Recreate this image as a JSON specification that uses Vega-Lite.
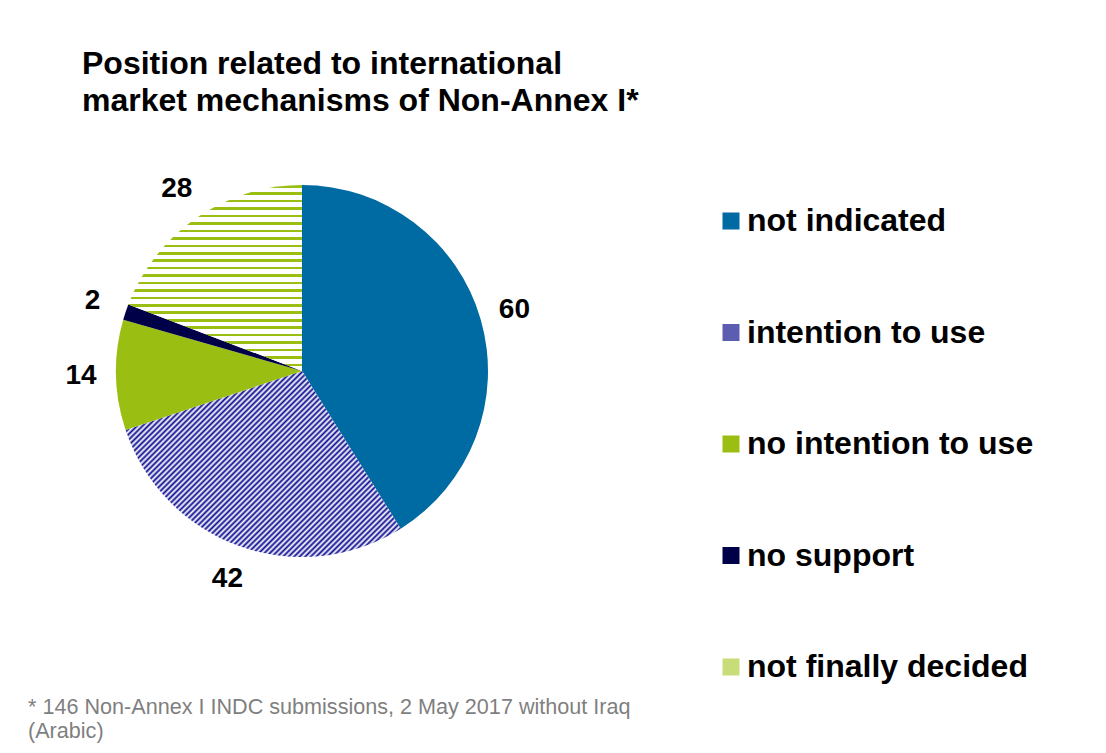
{
  "$schema": "https://vega.github.io/schema/vega-lite/v6.json",
  "background": "white",
  "padding": {"left": 28, "top": 47, "right": 10, "bottom": 5},
  "config": {"font": "Liberation Sans", "view": {"stroke": null}},
  "title": {
    "text": ["Position related to international", "market mechanisms of Non-Annex I*"],
    "anchor": "start", "fontSize": 32, "fontWeight": "bold", "font": "Liberation Sans",
    "color": "black", "lineHeight": 37, "offset": 57, "dx": 54
  },
  "vconcat": [
    {
      "width": 372,
      "height": 372,
      "title": {
        "text": ["* 146 Non-Annex I INDC submissions, 2 May 2017 without Iraq", "(Arabic)"],
        "orient": "bottom", "anchor": "start", "frame": "group", "fontSize": 21.6,
        "fontWeight": "normal", "font": "Liberation Sans", "color": "#7f7f7f",
        "lineHeight": 24, "offset": 104, "dx": -88
      },
      "data": {
        "values": [
          {"cat": "not indicated", "value": 60, "order": 1},
          {"cat": "intention to use", "value": 42, "order": 2},
          {"cat": "no intention to use", "value": 14, "order": 3},
          {"cat": "no support", "value": 2, "order": 4},
          {"cat": "not finally decided", "value": 28, "order": 5}
        ]
      },
      "encoding": {
        "theta": {"field": "value", "type": "quantitative", "stack": true},
        "order": {"field": "order", "type": "quantitative"}
      },
      "layer": [
        {
          "mark": {"type": "arc", "outerRadius": 186},
          "encoding": {
            "fill": {
              "condition": [
                {
                  "test": "datum.cat === 'intention to use'",
                  "value": {
                    "gradient": "linear", "x1": 0, "y1": 0, "x2": 1.15, "y2": 0.78,
                    "stops": [
                      {"offset": 0, "color": "#0c0c92"}, {"offset": 0.006, "color": "#fff"}, {"offset": 0.012, "color": "#0c0c92"}, {"offset": 0.018, "color": "#fff"}, {"offset": 0.024, "color": "#0c0c92"}, {"offset": 0.03, "color": "#fff"}, {"offset": 0.036, "color": "#0c0c92"}, {"offset": 0.042, "color": "#fff"}, {"offset": 0.048, "color": "#0c0c92"}, {"offset": 0.054, "color": "#fff"},
                      {"offset": 0.06, "color": "#0c0c92"}, {"offset": 0.066, "color": "#fff"}, {"offset": 0.072, "color": "#0c0c92"}, {"offset": 0.078, "color": "#fff"}, {"offset": 0.084, "color": "#0c0c92"}, {"offset": 0.09, "color": "#fff"}, {"offset": 0.096, "color": "#0c0c92"}, {"offset": 0.102, "color": "#fff"}, {"offset": 0.108, "color": "#0c0c92"}, {"offset": 0.114, "color": "#fff"},
                      {"offset": 0.12, "color": "#0c0c92"}, {"offset": 0.126, "color": "#fff"}, {"offset": 0.132, "color": "#0c0c92"}, {"offset": 0.138, "color": "#fff"}, {"offset": 0.144, "color": "#0c0c92"}, {"offset": 0.15, "color": "#fff"}, {"offset": 0.156, "color": "#0c0c92"}, {"offset": 0.162, "color": "#fff"}, {"offset": 0.168, "color": "#0c0c92"}, {"offset": 0.174, "color": "#fff"},
                      {"offset": 0.18, "color": "#0c0c92"}, {"offset": 0.186, "color": "#fff"}, {"offset": 0.192, "color": "#0c0c92"}, {"offset": 0.198, "color": "#fff"}, {"offset": 0.204, "color": "#0c0c92"}, {"offset": 0.21, "color": "#fff"}, {"offset": 0.216, "color": "#0c0c92"}, {"offset": 0.222, "color": "#fff"}, {"offset": 0.228, "color": "#0c0c92"}, {"offset": 0.234, "color": "#fff"},
                      {"offset": 0.24, "color": "#0c0c92"}, {"offset": 0.246, "color": "#fff"}, {"offset": 0.252, "color": "#0c0c92"}, {"offset": 0.258, "color": "#fff"}, {"offset": 0.264, "color": "#0c0c92"}, {"offset": 0.27, "color": "#fff"}, {"offset": 0.276, "color": "#0c0c92"}, {"offset": 0.282, "color": "#fff"}, {"offset": 0.288, "color": "#0c0c92"}, {"offset": 0.294, "color": "#fff"},
                      {"offset": 0.3, "color": "#0c0c92"}, {"offset": 0.306, "color": "#fff"}, {"offset": 0.312, "color": "#0c0c92"}, {"offset": 0.318, "color": "#fff"}, {"offset": 0.324, "color": "#0c0c92"}, {"offset": 0.33, "color": "#fff"}, {"offset": 0.336, "color": "#0c0c92"}, {"offset": 0.342, "color": "#fff"}, {"offset": 0.348, "color": "#0c0c92"}, {"offset": 0.354, "color": "#fff"},
                      {"offset": 0.36, "color": "#0c0c92"}, {"offset": 0.366, "color": "#fff"}, {"offset": 0.372, "color": "#0c0c92"}, {"offset": 0.378, "color": "#fff"}, {"offset": 0.384, "color": "#0c0c92"}, {"offset": 0.39, "color": "#fff"}, {"offset": 0.396, "color": "#0c0c92"}, {"offset": 0.402, "color": "#fff"}, {"offset": 0.408, "color": "#0c0c92"}, {"offset": 0.414, "color": "#fff"},
                      {"offset": 0.42, "color": "#0c0c92"}, {"offset": 0.426, "color": "#fff"}, {"offset": 0.432, "color": "#0c0c92"}, {"offset": 0.438, "color": "#fff"}, {"offset": 0.444, "color": "#0c0c92"}, {"offset": 0.45, "color": "#fff"}, {"offset": 0.456, "color": "#0c0c92"}, {"offset": 0.462, "color": "#fff"}, {"offset": 0.468, "color": "#0c0c92"}, {"offset": 0.474, "color": "#fff"},
                      {"offset": 0.48, "color": "#0c0c92"}, {"offset": 0.486, "color": "#fff"}, {"offset": 0.492, "color": "#0c0c92"}, {"offset": 0.498, "color": "#fff"}, {"offset": 0.504, "color": "#0c0c92"}, {"offset": 0.51, "color": "#fff"}, {"offset": 0.516, "color": "#0c0c92"}, {"offset": 0.522, "color": "#fff"}, {"offset": 0.528, "color": "#0c0c92"}, {"offset": 0.534, "color": "#fff"},
                      {"offset": 0.54, "color": "#0c0c92"}, {"offset": 0.546, "color": "#fff"}, {"offset": 0.552, "color": "#0c0c92"}, {"offset": 0.558, "color": "#fff"}, {"offset": 0.564, "color": "#0c0c92"}, {"offset": 0.57, "color": "#fff"}, {"offset": 0.576, "color": "#0c0c92"}, {"offset": 0.582, "color": "#fff"}, {"offset": 0.588, "color": "#0c0c92"}, {"offset": 0.594, "color": "#fff"},
                      {"offset": 0.6, "color": "#0c0c92"}, {"offset": 0.606, "color": "#fff"}, {"offset": 0.612, "color": "#0c0c92"}, {"offset": 0.618, "color": "#fff"}, {"offset": 0.624, "color": "#0c0c92"}, {"offset": 0.63, "color": "#fff"}, {"offset": 0.636, "color": "#0c0c92"}, {"offset": 0.642, "color": "#fff"}, {"offset": 0.648, "color": "#0c0c92"}, {"offset": 0.654, "color": "#fff"},
                      {"offset": 0.66, "color": "#0c0c92"}, {"offset": 0.666, "color": "#fff"}, {"offset": 0.672, "color": "#0c0c92"}, {"offset": 0.678, "color": "#fff"}, {"offset": 0.684, "color": "#0c0c92"}, {"offset": 0.69, "color": "#fff"}, {"offset": 0.696, "color": "#0c0c92"}, {"offset": 0.702, "color": "#fff"}, {"offset": 0.708, "color": "#0c0c92"}, {"offset": 0.714, "color": "#fff"},
                      {"offset": 0.72, "color": "#0c0c92"}, {"offset": 0.726, "color": "#fff"}, {"offset": 0.732, "color": "#0c0c92"}, {"offset": 0.738, "color": "#fff"}, {"offset": 0.744, "color": "#0c0c92"}, {"offset": 0.75, "color": "#fff"}, {"offset": 0.756, "color": "#0c0c92"}, {"offset": 0.762, "color": "#fff"}, {"offset": 0.768, "color": "#0c0c92"}, {"offset": 0.774, "color": "#fff"},
                      {"offset": 0.78, "color": "#0c0c92"}, {"offset": 0.786, "color": "#fff"}, {"offset": 0.792, "color": "#0c0c92"}, {"offset": 0.798, "color": "#fff"}, {"offset": 0.804, "color": "#0c0c92"}, {"offset": 0.81, "color": "#fff"}, {"offset": 0.816, "color": "#0c0c92"}, {"offset": 0.822, "color": "#fff"}, {"offset": 0.828, "color": "#0c0c92"}, {"offset": 0.834, "color": "#fff"},
                      {"offset": 0.84, "color": "#0c0c92"}, {"offset": 0.846, "color": "#fff"}, {"offset": 0.852, "color": "#0c0c92"}, {"offset": 0.858, "color": "#fff"}, {"offset": 0.864, "color": "#0c0c92"}, {"offset": 0.87, "color": "#fff"}, {"offset": 0.876, "color": "#0c0c92"}, {"offset": 0.882, "color": "#fff"}, {"offset": 0.888, "color": "#0c0c92"}, {"offset": 0.894, "color": "#fff"},
                      {"offset": 0.9, "color": "#0c0c92"}, {"offset": 0.906, "color": "#fff"}, {"offset": 0.912, "color": "#0c0c92"}, {"offset": 0.918, "color": "#fff"}, {"offset": 0.924, "color": "#0c0c92"}, {"offset": 0.93, "color": "#fff"}, {"offset": 0.936, "color": "#0c0c92"}, {"offset": 0.942, "color": "#fff"}, {"offset": 0.948, "color": "#0c0c92"}, {"offset": 0.954, "color": "#fff"},
                      {"offset": 0.96, "color": "#0c0c92"}, {"offset": 0.966, "color": "#fff"}, {"offset": 0.972, "color": "#0c0c92"}, {"offset": 0.978, "color": "#fff"}, {"offset": 0.984, "color": "#0c0c92"}, {"offset": 0.99, "color": "#fff"}, {"offset": 0.996, "color": "#0c0c92"}, {"offset": 1, "color": "#fff"}
                    ]
                  }
                },
                {
                  "test": "datum.cat === 'not finally decided'",
                  "value": {
                    "gradient": "linear", "x1": 0, "y1": 0, "x2": 0, "y2": 1,
                    "stops": [
                      {"offset": 0, "color": "#9abf12"}, {"offset": 0.014, "color": "#9abf12"}, {"offset": 0.014, "color": "#fff"}, {"offset": 0.04, "color": "#fff"},
                      {"offset": 0.04, "color": "#9abf12"}, {"offset": 0.054, "color": "#9abf12"}, {"offset": 0.054, "color": "#fff"}, {"offset": 0.08, "color": "#fff"},
                      {"offset": 0.08, "color": "#9abf12"}, {"offset": 0.094, "color": "#9abf12"}, {"offset": 0.094, "color": "#fff"}, {"offset": 0.12, "color": "#fff"},
                      {"offset": 0.12, "color": "#9abf12"}, {"offset": 0.134, "color": "#9abf12"}, {"offset": 0.134, "color": "#fff"}, {"offset": 0.16, "color": "#fff"},
                      {"offset": 0.16, "color": "#9abf12"}, {"offset": 0.174, "color": "#9abf12"}, {"offset": 0.174, "color": "#fff"}, {"offset": 0.2, "color": "#fff"},
                      {"offset": 0.2, "color": "#9abf12"}, {"offset": 0.214, "color": "#9abf12"}, {"offset": 0.214, "color": "#fff"}, {"offset": 0.24, "color": "#fff"},
                      {"offset": 0.24, "color": "#9abf12"}, {"offset": 0.254, "color": "#9abf12"}, {"offset": 0.254, "color": "#fff"}, {"offset": 0.28, "color": "#fff"},
                      {"offset": 0.28, "color": "#9abf12"}, {"offset": 0.294, "color": "#9abf12"}, {"offset": 0.294, "color": "#fff"}, {"offset": 0.32, "color": "#fff"},
                      {"offset": 0.32, "color": "#9abf12"}, {"offset": 0.334, "color": "#9abf12"}, {"offset": 0.334, "color": "#fff"}, {"offset": 0.36, "color": "#fff"},
                      {"offset": 0.36, "color": "#9abf12"}, {"offset": 0.374, "color": "#9abf12"}, {"offset": 0.374, "color": "#fff"}, {"offset": 0.4, "color": "#fff"},
                      {"offset": 0.4, "color": "#9abf12"}, {"offset": 0.414, "color": "#9abf12"}, {"offset": 0.414, "color": "#fff"}, {"offset": 0.44, "color": "#fff"},
                      {"offset": 0.44, "color": "#9abf12"}, {"offset": 0.454, "color": "#9abf12"}, {"offset": 0.454, "color": "#fff"}, {"offset": 0.48, "color": "#fff"},
                      {"offset": 0.48, "color": "#9abf12"}, {"offset": 0.494, "color": "#9abf12"}, {"offset": 0.494, "color": "#fff"}, {"offset": 0.52, "color": "#fff"},
                      {"offset": 0.52, "color": "#9abf12"}, {"offset": 0.534, "color": "#9abf12"}, {"offset": 0.534, "color": "#fff"}, {"offset": 0.56, "color": "#fff"},
                      {"offset": 0.56, "color": "#9abf12"}, {"offset": 0.574, "color": "#9abf12"}, {"offset": 0.574, "color": "#fff"}, {"offset": 0.6, "color": "#fff"},
                      {"offset": 0.6, "color": "#9abf12"}, {"offset": 0.614, "color": "#9abf12"}, {"offset": 0.614, "color": "#fff"}, {"offset": 0.64, "color": "#fff"},
                      {"offset": 0.64, "color": "#9abf12"}, {"offset": 0.654, "color": "#9abf12"}, {"offset": 0.654, "color": "#fff"}, {"offset": 0.68, "color": "#fff"},
                      {"offset": 0.68, "color": "#9abf12"}, {"offset": 0.694, "color": "#9abf12"}, {"offset": 0.694, "color": "#fff"}, {"offset": 0.72, "color": "#fff"},
                      {"offset": 0.72, "color": "#9abf12"}, {"offset": 0.734, "color": "#9abf12"}, {"offset": 0.734, "color": "#fff"}, {"offset": 0.76, "color": "#fff"},
                      {"offset": 0.76, "color": "#9abf12"}, {"offset": 0.774, "color": "#9abf12"}, {"offset": 0.774, "color": "#fff"}, {"offset": 0.8, "color": "#fff"},
                      {"offset": 0.8, "color": "#9abf12"}, {"offset": 0.814, "color": "#9abf12"}, {"offset": 0.814, "color": "#fff"}, {"offset": 0.84, "color": "#fff"},
                      {"offset": 0.84, "color": "#9abf12"}, {"offset": 0.854, "color": "#9abf12"}, {"offset": 0.854, "color": "#fff"}, {"offset": 0.88, "color": "#fff"},
                      {"offset": 0.88, "color": "#9abf12"}, {"offset": 0.894, "color": "#9abf12"}, {"offset": 0.894, "color": "#fff"}, {"offset": 0.92, "color": "#fff"},
                      {"offset": 0.92, "color": "#9abf12"}, {"offset": 0.934, "color": "#9abf12"}, {"offset": 0.934, "color": "#fff"}, {"offset": 0.96, "color": "#fff"},
                      {"offset": 0.96, "color": "#9abf12"}, {"offset": 0.974, "color": "#9abf12"}, {"offset": 0.974, "color": "#fff"}, {"offset": 1, "color": "#fff"}
                    ]
                  }
                }
              ],
              "field": "cat",
              "type": "nominal",
              "scale": {
                "domain": ["not indicated", "intention to use", "no intention to use", "no support", "not finally decided"],
                "range": ["#006aa3", "#5c5cb0", "#9abf12", "#000048", "#c8dd7a"]
              },
              "legend": {
                "orient": "none", "legendX": 599, "legendY": 20, "title": null,
                "symbolType": "square", "symbolSize": 289, "symbolStrokeWidth": 0,
                "labelFontSize": 32, "labelFontWeight": "bold", "labelFont": "Liberation Sans",
                "labelColor": "black", "rowPadding": 79.5, "labelOffset": 0, "labelLimit": 500
              }
            }
          }
        },
        {
          "mark": {"type": "text", "radius": 221, "fontSize": 28, "fontWeight": "bold", "font": "Liberation Sans", "color": "black"},
          "encoding": {
            "text": {"field": "value", "type": "quantitative"},
            "detail": {"field": "cat", "type": "nominal"}
          }
        }
      ]
    }
  ]
}
